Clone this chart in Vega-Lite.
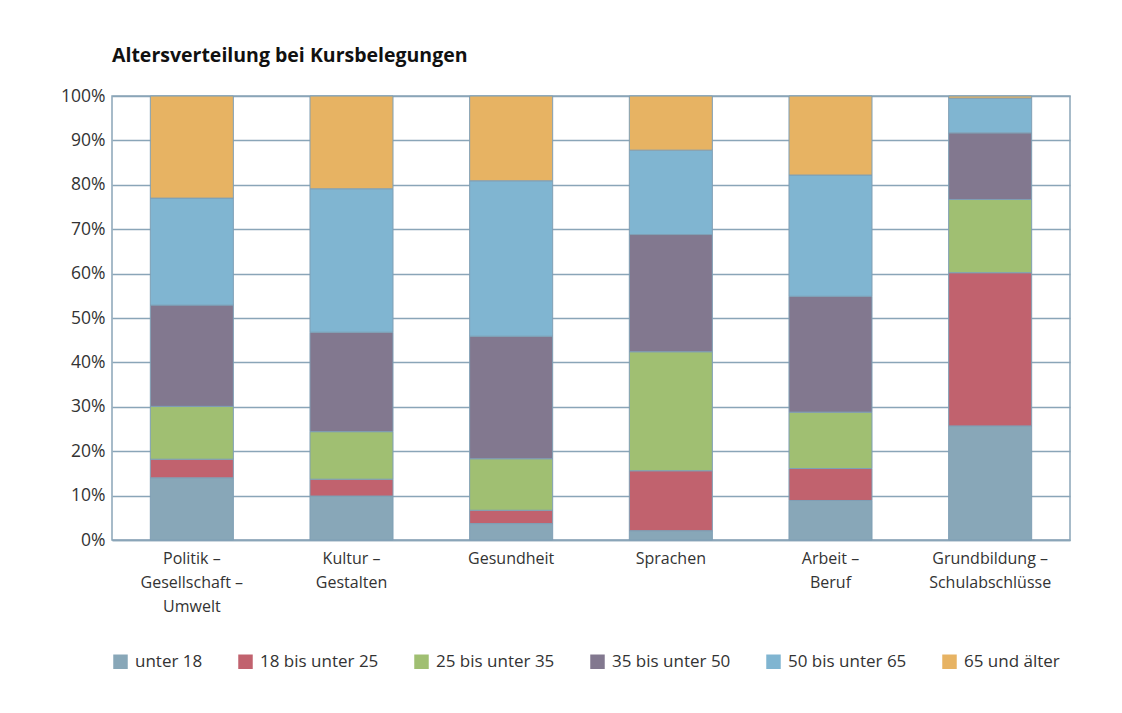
{
  "$schema": "https://vega.github.io/schema/vega-lite/v6.json",
  "width": 958,
  "height": 444,
  "autosize": {"type": "none"},
  "padding": {"left": 112, "top": 96, "right": 52, "bottom": 173},
  "background": "white",
  "title": {
    "text": "Altersverteilung bei Kursbelegungen",
    "anchor": "start",
    "frame": "group",
    "font": "Open Sans",
    "fontSize": 19.5,
    "fontWeight": "bold",
    "color": "#111111",
    "offset": 21
  },
  "data": {
    "values": [
      {"Bereich": "Politik – Gesellschaft – Umwelt", "Alter": "unter 18", "idx": 0, "Anteil": 14.0},
      {"Bereich": "Politik – Gesellschaft – Umwelt", "Alter": "18 bis unter 25", "idx": 1, "Anteil": 4.2},
      {"Bereich": "Politik – Gesellschaft – Umwelt", "Alter": "25 bis unter 35", "idx": 2, "Anteil": 11.9},
      {"Bereich": "Politik – Gesellschaft – Umwelt", "Alter": "35 bis unter 50", "idx": 3, "Anteil": 22.8},
      {"Bereich": "Politik – Gesellschaft – Umwelt", "Alter": "50 bis unter 65", "idx": 4, "Anteil": 24.1},
      {"Bereich": "Politik – Gesellschaft – Umwelt", "Alter": "65 und älter", "idx": 5, "Anteil": 23.0},
      {"Bereich": "Kultur – Gestalten", "Alter": "unter 18", "idx": 0, "Anteil": 9.9},
      {"Bereich": "Kultur – Gestalten", "Alter": "18 bis unter 25", "idx": 1, "Anteil": 3.8},
      {"Bereich": "Kultur – Gestalten", "Alter": "25 bis unter 35", "idx": 2, "Anteil": 10.7},
      {"Bereich": "Kultur – Gestalten", "Alter": "35 bis unter 50", "idx": 3, "Anteil": 22.4},
      {"Bereich": "Kultur – Gestalten", "Alter": "50 bis unter 65", "idx": 4, "Anteil": 32.3},
      {"Bereich": "Kultur – Gestalten", "Alter": "65 und älter", "idx": 5, "Anteil": 20.9},
      {"Bereich": "Gesundheit", "Alter": "unter 18", "idx": 0, "Anteil": 3.7},
      {"Bereich": "Gesundheit", "Alter": "18 bis unter 25", "idx": 1, "Anteil": 3.0},
      {"Bereich": "Gesundheit", "Alter": "25 bis unter 35", "idx": 2, "Anteil": 11.6},
      {"Bereich": "Gesundheit", "Alter": "35 bis unter 50", "idx": 3, "Anteil": 27.6},
      {"Bereich": "Gesundheit", "Alter": "50 bis unter 65", "idx": 4, "Anteil": 35.0},
      {"Bereich": "Gesundheit", "Alter": "65 und älter", "idx": 5, "Anteil": 19.1},
      {"Bereich": "Sprachen", "Alter": "unter 18", "idx": 0, "Anteil": 2.1},
      {"Bereich": "Sprachen", "Alter": "18 bis unter 25", "idx": 1, "Anteil": 13.5},
      {"Bereich": "Sprachen", "Alter": "25 bis unter 35", "idx": 2, "Anteil": 26.8},
      {"Bereich": "Sprachen", "Alter": "35 bis unter 50", "idx": 3, "Anteil": 26.4},
      {"Bereich": "Sprachen", "Alter": "50 bis unter 65", "idx": 4, "Anteil": 19.0},
      {"Bereich": "Sprachen", "Alter": "65 und älter", "idx": 5, "Anteil": 12.2},
      {"Bereich": "Arbeit – Beruf", "Alter": "unter 18", "idx": 0, "Anteil": 8.9},
      {"Bereich": "Arbeit – Beruf", "Alter": "18 bis unter 25", "idx": 1, "Anteil": 7.2},
      {"Bereich": "Arbeit – Beruf", "Alter": "25 bis unter 35", "idx": 2, "Anteil": 12.7},
      {"Bereich": "Arbeit – Beruf", "Alter": "35 bis unter 50", "idx": 3, "Anteil": 26.1},
      {"Bereich": "Arbeit – Beruf", "Alter": "50 bis unter 65", "idx": 4, "Anteil": 27.3},
      {"Bereich": "Arbeit – Beruf", "Alter": "65 und älter", "idx": 5, "Anteil": 17.8},
      {"Bereich": "Grundbildung – Schulabschlüsse", "Alter": "unter 18", "idx": 0, "Anteil": 25.7},
      {"Bereich": "Grundbildung – Schulabschlüsse", "Alter": "18 bis unter 25", "idx": 1, "Anteil": 34.5},
      {"Bereich": "Grundbildung – Schulabschlüsse", "Alter": "25 bis unter 35", "idx": 2, "Anteil": 16.5},
      {"Bereich": "Grundbildung – Schulabschlüsse", "Alter": "35 bis unter 50", "idx": 3, "Anteil": 15.0},
      {"Bereich": "Grundbildung – Schulabschlüsse", "Alter": "50 bis unter 65", "idx": 4, "Anteil": 7.8},
      {"Bereich": "Grundbildung – Schulabschlüsse", "Alter": "65 und älter", "idx": 5, "Anteil": 0.5}
    ]
  },
  "mark": {"type": "bar", "stroke": "#7f9fb5", "strokeWidth": 1},
  "encoding": {
    "x": {
      "field": "Bereich",
      "type": "nominal",
      "sort": null,
      "scale": {"paddingInner": 0.48, "paddingOuter": 0.24},
      "axis": {
        "title": null,
        "labelAngle": 0,
        "ticks": false,
        "domain": true,
        "domainColor": "#8aa5b8",
        "domainWidth": 1.5,
        "labelFont": "Open Sans",
        "labelFontSize": 16,
        "labelColor": "#333333",
        "labelPadding": 10,
        "labelLineHeight": 24,
        "labelExpr": "split(replace(replace(datum.label, ' – ', ' –|'), ' – ', ' –|'), '|')"
      }
    },
    "y": {
      "field": "Anteil",
      "type": "quantitative",
      "stack": "zero",
      "scale": {"domain": [0, 100], "nice": false},
      "axis": {
        "title": null,
        "values": [0, 10, 20, 30, 40, 50, 60, 70, 80, 90, 100],
        "labelExpr": "datum.value + '%'",
        "domain": false,
        "ticks": false,
        "grid": true,
        "gridColor": "#8aa5b8",
        "gridWidth": 1.5,
        "labelFont": "Open Sans",
        "labelFontSize": 17.5,
        "labelColor": "#333333",
        "labelPadding": 7
      }
    },
    "color": {
      "field": "Alter",
      "type": "nominal",
      "scale": {
        "domain": ["unter 18", "18 bis unter 25", "25 bis unter 35", "35 bis unter 50", "50 bis unter 65", "65 und älter"],
        "range": ["#88a7b8", "#c1626e", "#a0bf72", "#82788f", "#80b5d1", "#e7b363"]
      },
      "legend": {
        "title": null,
        "orient": "none",
        "direction": "horizontal",
        "legendX": 0,
        "legendY": 557,
        "symbolType": "square",
        "symbolSize": 210,
        "symbolStrokeWidth": 0,
        "symbolOpacity": 1,
        "labelFont": "Open Sans",
        "labelFontSize": 17,
        "labelColor": "#333333",
        "labelOffset": 6,
        "columnPadding": 34,
        "encode": {
          "symbols": {
            "update": {
              "fill": {"signal": "datum.value === '50 bis unter 65' ? '#62a8c9' : scale('color', datum.value)"}
            }
          }
        }
      }
    },
    "order": {"field": "idx", "type": "quantitative"}
  },
  "config": {
    "view": {"stroke": "#8aa5b8", "strokeWidth": 1.5}
  }
}
